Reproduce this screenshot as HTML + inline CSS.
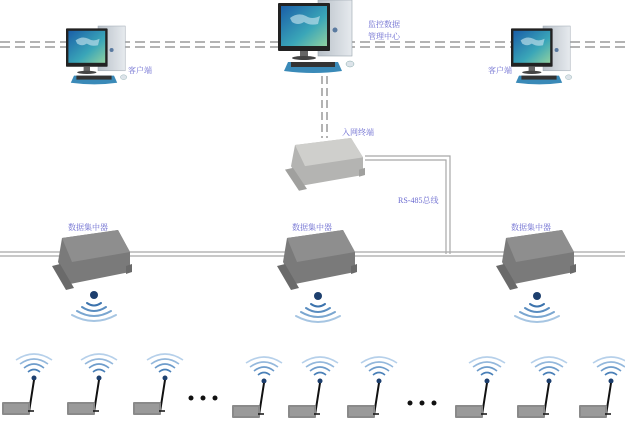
<!DOCTYPE html>
<html><head><meta charset="utf-8"><style>
html,body{margin:0;padding:0;background:#fff;}
svg{display:block}
text{font-family:"Liberation Serif","Noto Serif CJK SC",serif;font-size:8px;fill:#6a6ad0;}
</style></head><body>
<svg width="625" height="431" viewBox="0 0 625 431" xmlns="http://www.w3.org/2000/svg">
<defs>
<linearGradient id="scr" x1="0" y1="0" x2="1" y2="1"><stop offset="0" stop-color="#1a5fa8"/><stop offset="0.6" stop-color="#3aa6b8"/><stop offset="1" stop-color="#8fd0a0"/></linearGradient>
<linearGradient id="tw" x1="0" y1="0" x2="1" y2="0"><stop offset="0" stop-color="#b8c0c8"/><stop offset="1" stop-color="#e6eaee"/></linearGradient>
<g id="pc">
<rect x="40" y="0" width="34" height="56" fill="url(#tw)" stroke="#9aa4ae" stroke-width="0.6"/>
<circle cx="57" cy="30" r="2.5" fill="#5a7aa0"/>
<rect x="0" y="3" width="52" height="48" fill="#222" rx="1"/>
<rect x="3" y="6" width="46" height="40" fill="url(#scr)"/>
<path d="M12 18 q8 -6 16 -2 q6 4 14 0 l-2 8 q-8 2 -14 -2 q-6 4 -12 0z" fill="#b8dce8" opacity="0.7"/>
<rect x="22" y="51" width="8" height="6" fill="#666"/>
<ellipse cx="26" cy="58" rx="12" ry="2" fill="#444"/>
<path d="M10 62 h50 l4 9 q-28 4 -58 0z" fill="#3a8ab8"/>
<rect x="13" y="62" width="44" height="5" fill="#333"/>
<ellipse cx="72" cy="64" rx="4" ry="3" fill="#dde4ea" stroke="#8aa" stroke-width="0.5"/>
</g>
<g id="box">
<path d="M10 8 l56 -8 l12 22 l0 20 l-60 12 l-12 -22z" fill="#7a7a7a"/>
<path d="M10 8 l56 -8 l12 22 l-58 10z" fill="#8e8e8e"/>
<path d="M0 36 l8 -2 l14 24 l-8 2z" fill="#6a6a6a"/>
<path d="M74 36 l6 -2 l0 8 l-6 2z" fill="#6a6a6a"/>
</g>
<g id="gbox">
<path d="M10 8 l56 -8 l12 22 l0 20 l-60 12 l-12 -22z" fill="#b4b4b2"/>
<path d="M10 8 l56 -8 l12 22 l-58 10z" fill="#cfcfcc"/>
<path d="M0 36 l8 -2 l14 24 l-8 2z" fill="#a0a09e"/>
<path d="M74 36 l6 -2 l0 8 l-6 2z" fill="#a0a09e"/>
</g>
<g id="wav" fill="none" stroke-linecap="round">
<circle cx="0" cy="0" r="4" fill="#1d3f6e" stroke="none"/>
<path d="M-7 8 q7 5 14 0" stroke="#3c73ad" stroke-width="2"/>
<path d="M-12 12 q12 8 24 0" stroke="#5a8dc0" stroke-width="2"/>
<path d="M-17 16 q17 10 34 0" stroke="#7aa6d0" stroke-width="2"/>
<path d="M-22 20 q22 12 44 0" stroke="#a6c5e2" stroke-width="2"/>
</g>
<g id="sen">
<g fill="none" stroke-width="1.6">
<path d="M-6 -6 q6 -5 12 0" stroke="#4a80b8"/>
<path d="M-10 -10 q10 -8 20 0" stroke="#6e9ccb"/>
<path d="M-14 -14 q14 -10 28 0" stroke="#94b8dc"/>
<path d="M-18 -18 q18 -12 36 0" stroke="#b6d0ea"/>
</g>
<circle cx="0" cy="0" r="2.5" fill="#1d3f6e"/>
<path d="M0 2 L-5 34" stroke="#111" stroke-width="2"/>
<rect x="-32" y="24" width="28" height="13" fill="#8a8a8a" rx="1"/>
<rect x="-30" y="26" width="24" height="9" fill="#9a9a9a"/>
<path d="M-6 33 h6" stroke="#111" stroke-width="1.5"/>
</g>
</defs>
<g stroke="#9a9a9a" stroke-width="1.5" stroke-dasharray="10,5">
<line x1="0" y1="42" x2="625" y2="42"/><line x1="0" y1="47" x2="625" y2="47"/>
<line x1="322" y1="76" x2="322" y2="138" stroke-dasharray="8,4"/><line x1="327" y1="76" x2="327" y2="138" stroke-dasharray="8,4"/>
</g>
<g stroke="#a8a8a8" stroke-width="1.2" fill="none">
<path d="M365 156 H450 V254"/><path d="M365 160 H446 V254"/>
<line x1="0" y1="252" x2="625" y2="252"/><line x1="0" y1="256" x2="625" y2="256"/>
</g>
<use href="#pc" transform="translate(66,26) scale(0.8)"/>
<use href="#pc" transform="translate(278,0)"/>
<use href="#pc" transform="translate(511,26) scale(0.8)"/>
<text x="128" y="73">客户端</text>
<text x="368" y="27">监控数据</text>
<text x="368" y="39">管理中心</text>
<text x="488" y="73">客户端</text>
<use href="#gbox" transform="translate(285,138) scale(1.0,0.88)"/>
<text x="342" y="135">入网终端</text>
<text x="398" y="203">RS-485总线</text>
<use href="#box" transform="translate(52,230)"/>
<use href="#box" transform="translate(277,230)"/>
<use href="#box" transform="translate(496,230)"/>
<text x="68" y="230">数据集中器</text>
<text x="292" y="230">数据集中器</text>
<text x="511" y="230">数据集中器</text>
<use href="#wav" transform="translate(94,295)"/>
<use href="#wav" transform="translate(318,296)"/>
<use href="#wav" transform="translate(537,296)"/>
<use href="#sen" transform="translate(34,378)"/>
<use href="#sen" transform="translate(99,378)"/>
<use href="#sen" transform="translate(165,378)"/>
<use href="#sen" transform="translate(264,381)"/>
<use href="#sen" transform="translate(320,381)"/>
<use href="#sen" transform="translate(379,381)"/>
<use href="#sen" transform="translate(487,381)"/>
<use href="#sen" transform="translate(549,381)"/>
<use href="#sen" transform="translate(611,381)"/>
<g fill="#111"><circle cx="191" cy="398" r="2.5"/><circle cx="203" cy="398" r="2.5"/><circle cx="215" cy="398" r="2.5"/>
<circle cx="410" cy="403" r="2.5"/><circle cx="422" cy="403" r="2.5"/><circle cx="434" cy="403" r="2.5"/></g>
</svg>
</body></html>
